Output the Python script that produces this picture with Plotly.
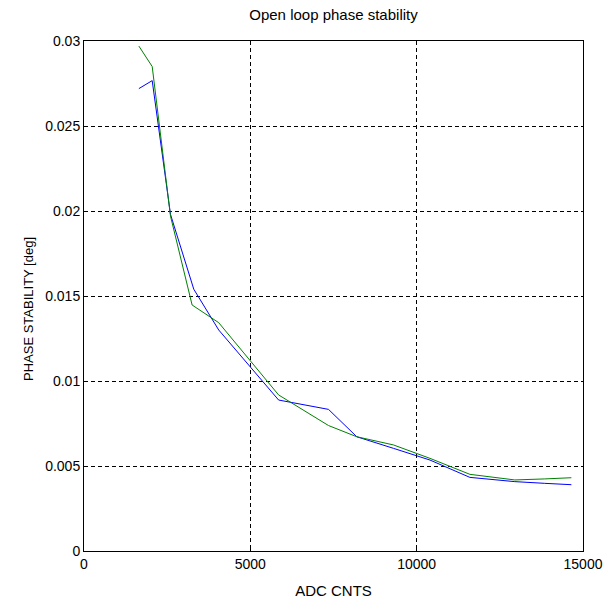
import plotly.graph_objects as go

adc_blue = [1650, 2050, 2600, 3300, 4050, 5850, 7350, 8200, 9300, 10400, 11600, 12950, 13850, 14650]
phase_blue = [0.0272, 0.02767, 0.0198, 0.0154, 0.0130, 0.00888, 0.00833, 0.00672, 0.00604, 0.00535, 0.00433, 0.00408, 0.00398, 0.0039]

adc_green = [1650, 2050, 2600, 3250, 4050, 5850, 7350, 8200, 9300, 10400, 11600, 12950, 13850, 14650]
phase_green = [0.0297, 0.0285, 0.0197, 0.01447, 0.01343, 0.00918, 0.00738, 0.00672, 0.00624, 0.00545, 0.00451, 0.00418, 0.00424, 0.00431]

x_ticks = [0, 5000, 10000, 15000]
y_ticks = [0, 0.005, 0.01, 0.015, 0.02, 0.025, 0.03]
y_tick_labels = ["0", "0.005", "0.01", "0.015", "0.02", "0.025", "0.03"]

font_family = "Liberation Sans, Arial, sans-serif"

fig = go.Figure()
fig.add_trace(go.Scatter(x=adc_blue, y=phase_blue, mode="lines",
                         line=dict(color="#0000ff", width=1), showlegend=False))
fig.add_trace(go.Scatter(x=adc_green, y=phase_green, mode="lines",
                         line=dict(color="#008000", width=1), showlegend=False))

axis_common = dict(showline=True, linecolor="black", linewidth=1, mirror=True,
                   showgrid=True, gridcolor="black", gridwidth=1, griddash="4px,3px",
                   zeroline=False, ticks="inside", ticklen=4, tickcolor="black",
                   automargin=False,
                   tickfont=dict(family=font_family, size=14, color="black"))

W, H = 605, 603
L, R, T, B = 84, 22, 41, 52
PW, PH = W - L - R, H - T - B

fig.update_layout(
    width=W, height=H,
    margin=dict(l=L, r=R, t=T, b=B),
    paper_bgcolor="white", plot_bgcolor="white",
    title=dict(text="Open loop phase stability", x=(L + (W - R)) / 2 / W, xanchor="center",
               y=1 - 15 / H, yanchor="middle",
               font=dict(family=font_family, size=15, color="black")),
    xaxis=dict(range=[0, 15000], tickvals=x_ticks, ticktext=[str(v) for v in x_ticks],
               title=dict(text="ADC CNTS", standoff=14,
                          font=dict(family=font_family, size=15, color="black")),
               **axis_common),
    yaxis=dict(range=[0, 0.03], tickvals=y_ticks, ticktext=y_tick_labels,
               **axis_common),
    annotations=[dict(text="PHASE STABILITY [deg]", textangle=-90,
                      xref="paper", yref="paper",
                      x=(28 - L) / PW, y=1 - (309 - T) / PH,
                      xanchor="center", yanchor="middle", showarrow=False,
                      font=dict(family=font_family, size=13, color="black"))],
)

fig.write_html("out.html", config={"displayModeBar": False},
               post_script="document.body.style.margin='0';document.body.style.overflow='hidden';")
